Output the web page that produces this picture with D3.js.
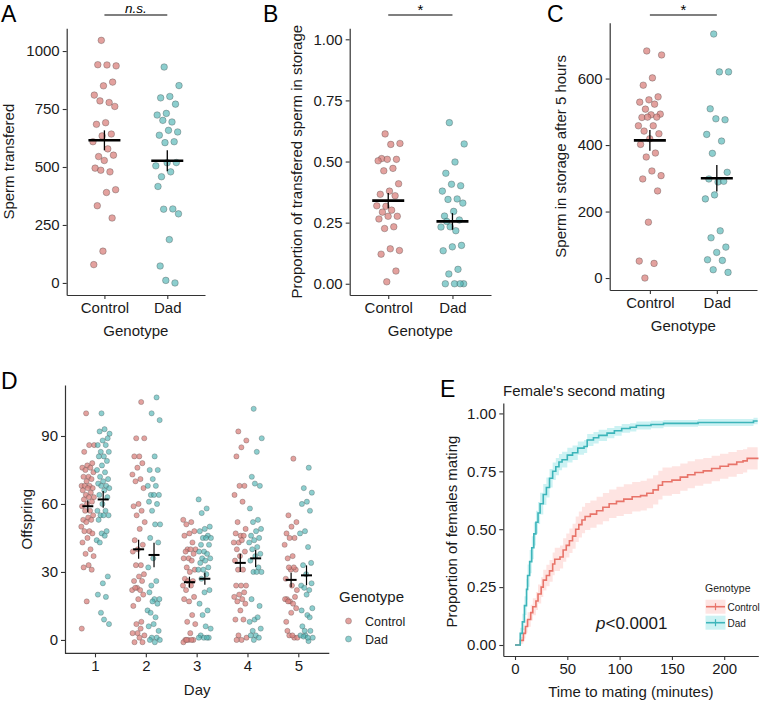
<!DOCTYPE html>
<html><head><meta charset="utf-8">
<script src="https://cdn.jsdelivr.net/npm/d3@7"></script>
<style>
body{margin:0;background:#fff}
svg text{font-family:"Liberation Sans",Arial,Helvetica,sans-serif}
</style>
</head><body>
<svg id="c" width="762" height="702"></svg>
<script>
// ---------------- DATA ----------------
const genotypes = ["Control", "Dad"];

// Panel A: sperm transferred
const aControl = [1046,936,940,941,866,850,810,778,785,761,691,684,642,634,609,578,545,551,528,495,479,486,402,390,333,280,137,79];
const aDad = [931,851,804,798,771,731,724,694,701,651,658,637,609,605,505,479,458,519,518,416,319,318,298,187,73,0,11];
const aMean = [615, 527];
const aSE = [43, 45];
const aTicks = [0, 250, 500, 750, 1000];

// Panel B: proportion in storage
const bControl = [0.613,0.574,0.570,0.512,0.509,0.509,0.503,0.472,0.462,0.409,0.379,0.366,0.360,0.317,0.319,0.301,0.293,0.276,0.276,0.265,0.233,0.226,0.136,0.143,0.121,0.052,0.008];
const bDad = [0.659,0.572,0.498,0.452,0.401,0.407,0.379,0.347,0.345,0.330,0.296,0.277,0.261,0.233,0.232,0.217,0.255,0.157,0.151,0.135,0.059,0.040,0,0,0,0];
const bMean = [0.34, 0.255];
const bSE = [0.031, 0.034];
const bTicks = [0, 0.25, 0.5, 0.75, 1.0];

// Panel C: sperm in storage after 5 hours
const cControl = [683,671,602,580,545,536,529,523,508,493,491,483,484,484,458,458,442,434,419,402,376,364,308,322,298,262,168,51,44,0];
const cDad = [734,620,620,509,476,479,432,412,375,318,289,298,291,250,238,142,121,93,77,55,53,25,17];
const cMean = [414, 300];
const cSE = [31, 40];
const cTicks = [0, 200, 400, 600];

// Panel D: offspring per day
const days = ["1","2","3","4","5"];
const dControl = [
  [100,86,86,83,78,77,76,76,75,74,72,72,71,70,68,68,68,67,67,66,65,64,63,63,62,61,60,59,57,57,55,54,53,53,52,50,48,48,47,45,43,40,38,37,33,32,31,17,5],
  [105,89,89,81,81,78,76,73,71,70,67,60,59,57,55,52,49,44,42,40,39,33,33,29,28,26,26,23,22,22,23,20,18,15,8,7,2,1,-1,-1,3,3,5],
  [53,52,51,48,47,46,43,40,40,40,39,38,36,36,35,32,31,30,27,26,26,24,24,22,19,17,18,11,8,7,3,0,0,0,-1,0,0],
  [92,88,85,81,68,68,64,61,52,49,46,47,46,43,43,44,40,39,37,35,31,31,24,24,24,21,20,19,18,17,16,13,9,9,2,1,0,0],
  [80,55,52,50,47,45,45,42,37,36,31,31,27,32,32,22,24,18,19,17,18,16,17,14,12,8,1,2,1,2,4]
];
const dDad = [
  [100,91,93,92,89,88,86,86,83,83,81,81,79,77,75,74,72,71,70,69,68,68,67,66,64,63,60,57,57,55,55,55,53,48,47,44,46,43,28,25,20,19,12,7,9],
  [107,100,97,81,75,75,71,68,68,64,64,64,61,60,57,51,51,45,43,36,32,26,24,18,18,21,16,17,13,10,12,4,7,6,1,1,0,-1,0],
  [62,58,56,50,49,48,46,45,45,45,42,42,39,39,38,36,36,35,34,32,31,31,29,27,22,21,16,13,11,5,6,2,1,1,1,1],
  [102,89,83,72,68,69,58,53,52,49,48,46,45,44,43,41,40,38,37,35,32,30,30,30,18,15,9,8,10,4,5,2,2,1,0],
  [76,67,65,61,60,57,48,47,41,33,34,29,24,22,23,14,11,6,4,2,2,-0.5,1.5,25,20,13,10,4,1,1]
];
const dMeanControl = [59, 40, 25.5, 34, 26.5];
const dMeanDad = [62, 37.5, 27, 36, 28.5];
const dSEControl = [2.6, 4.2, 2.4, 4.0, 3.2];
const dSEDad = [3.7, 5.4, 2.6, 3.8, 4.4];
const dTicks = [0, 30, 60, 90];

// Panel E: Kaplan-Meier curves (time in minutes, proportion mated)
const eTicksX = [0, 50, 100, 150, 200];
const eTicksY = [0, 0.25, 0.5, 0.75, 1.0];
const dadTime = [0,3,5,7,9,11,12,14,16,18,20,22,24,27,30,33,36,39,42,45,50,55,60,66,69,75,80,88,95,102,110,116,130,142,175,228,232];
const dadSurv = [0,0,0.05,0.10,0.17,0.24,0.30,0.36,0.42,0.48,0.53,0.57,0.61,0.65,0.68,0.72,0.75,0.77,0.79,0.80,0.82,0.83,0.85,0.857,0.885,0.895,0.905,0.915,0.925,0.935,0.94,0.948,0.952,0.957,0.961,0.967,0.967];
const dadLo = [0,0,0.025,0.065,0.13,0.195,0.252,0.31,0.37,0.43,0.48,0.522,0.563,0.605,0.637,0.68,0.712,0.733,0.755,0.766,0.788,0.799,0.821,0.829,0.859,0.87,0.881,0.893,0.904,0.916,0.922,0.931,0.936,0.942,0.946,0.953,0.953];
const dadHi = [0,0,0.075,0.135,0.21,0.285,0.348,0.41,0.47,0.53,0.58,0.618,0.657,0.695,0.723,0.76,0.788,0.807,0.825,0.834,0.852,0.861,0.879,0.885,0.911,0.92,0.929,0.937,0.946,0.954,0.958,0.965,0.968,0.972,0.976,0.981,0.981];
const ctrlTime = [0,3,5,8,10,12,15,17,20,22,25,27,30,33,36,38,43,46,49,52,55,58,61,64,67,72,78,84,90,97,104,112,120,126,132,137,141,150,158,165,172,180,188,196,204,212,218,222,232];
const ctrlSurv = [0,0,0.02,0.05,0.08,0.11,0.14,0.165,0.19,0.22,0.25,0.28,0.30,0.32,0.35,0.37,0.38,0.41,0.43,0.45,0.47,0.50,0.52,0.54,0.555,0.565,0.58,0.595,0.61,0.62,0.63,0.64,0.645,0.655,0.67,0.69,0.705,0.712,0.725,0.735,0.745,0.752,0.762,0.772,0.78,0.79,0.795,0.806,0.81];
const ctrlLo = [0,0,0.005,0.028,0.053,0.079,0.106,0.128,0.151,0.179,0.207,0.235,0.254,0.273,0.301,0.32,0.33,0.359,0.378,0.397,0.416,0.445,0.464,0.483,0.497,0.506,0.52,0.534,0.548,0.557,0.566,0.576,0.581,0.591,0.607,0.628,0.644,0.652,0.666,0.677,0.688,0.696,0.707,0.718,0.727,0.738,0.745,0.758,0.764];
const ctrlHi = [0,0,0.035,0.072,0.107,0.141,0.174,0.202,0.229,0.261,0.293,0.325,0.346,0.367,0.399,0.42,0.43,0.461,0.482,0.503,0.524,0.555,0.576,0.597,0.613,0.624,0.64,0.656,0.672,0.683,0.694,0.704,0.709,0.719,0.733,0.752,0.766,0.772,0.784,0.793,0.802,0.808,0.817,0.826,0.833,0.842,0.845,0.854,0.856];

// ---------------- STYLE ----------------
const ptFill = {Control: "#D9827D", Dad: "#4FB3B3"};
const ptOpacity = {Control: 0.75, Dad: 0.65};
const lineCol = {Control: "#E8746A", Dad: "#3DB5BA"};
const ribCol = {Control: "#F8766D", Dad: "#00BFC4"};
const axisCol = "#333";
const txtCol = "#1a1a1a";
const TICK = 15, TITLE = 15, LETTER = 23;

const svg = d3.select("#c");

function jit(i) { return ((i * 0.618034 + 0.37) % 1) * 2 - 1; }

function styleAxis(g) {
  g.selectAll("path.domain").attr("stroke", axisCol).attr("stroke-width", 1.2);
  g.selectAll(".tick line").attr("stroke", axisCol).attr("stroke-width", 1.1);
  g.selectAll(".tick text").attr("fill", txtCol).attr("font-size", TICK)
    .attr("font-family", '"Liberation Sans",Arial,sans-serif');
}

function text(x, y, s, o = {}) {
  const t = svg.append("text").attr("x", x).attr("y", y).text(s)
    .attr("font-size", o.size || TITLE).attr("fill", o.fill || txtCol)
    .attr("text-anchor", o.anchor || "start");
  if (o.rotate) t.attr("transform", `rotate(-90,${x},${y})`);
  if (o.italic) t.attr("font-style", "italic");
  return t;
}

function dotPanel(p) {
  const x = d3.scalePoint().domain(genotypes).range([p.x0, p.x1]).padding(0.6);
  const y = d3.scaleLinear().domain(p.dom).range([p.yb, p.yt]);
  const gx = svg.append("g").attr("transform", `translate(0,${p.yb})`)
    .call(d3.axisBottom(x).tickSize(4).tickSizeOuter(0).tickPadding(3));
  styleAxis(gx);
  const gy = svg.append("g").attr("transform", `translate(${p.x0},0)`)
    .call(d3.axisLeft(y).tickValues(p.ticks).tickFormat(p.fmt).tickSize(4).tickSizeOuter(0).tickPadding(3));
  styleAxis(gy);
  const sets = [[p.ctrl, "Control"], [p.dad, "Dad"]];
  sets.forEach(([vals, gname]) => {
    svg.append("g").selectAll("circle").data(vals).join("circle")
      .attr("cx", (d, i) => x(gname) + jit(i) * 12)
      .attr("cy", d => y(d))
      .attr("r", 3.3)
      .attr("fill", ptFill[gname]).attr("fill-opacity", ptOpacity[gname])
      .attr("stroke", "#3a3a3a").attr("stroke-opacity", 0.45).attr("stroke-width", 0.7);
  });
  genotypes.forEach((gname, k) => {
    const cx = x(gname);
    svg.append("line").attr("x1", cx).attr("x2", cx)
      .attr("y1", y(p.mean[k] - p.se[k])).attr("y2", y(p.mean[k] + p.se[k]))
      .attr("stroke", "#000").attr("stroke-width", 1.3);
    svg.append("line").attr("x1", cx - 16).attr("x2", cx + 16)
      .attr("y1", y(p.mean[k])).attr("y2", y(p.mean[k]))
      .attr("stroke", "#000").attr("stroke-width", 2.6);
  });
  // significance bar
  svg.append("line").attr("x1", x("Control")).attr("x2", x("Dad"))
    .attr("y1", 15).attr("y2", 15).attr("stroke", "#000").attr("stroke-width", 1.1);
  const mid = (x("Control") + x("Dad")) / 2;
  text(mid, p.sigY, p.sig, {anchor: "middle", size: p.sigSize, italic: p.sigItalic, fill: "#000"});
  // titles
  text(mid, p.titleY, "Genotype", {anchor: "middle"});
  text(p.ylabX, (p.yb + p.yt) / 2, p.ylab, {anchor: "middle", rotate: true});
  text(p.letterX, 22, p.letter, {size: LETTER, fill: "#000"});
}

dotPanel({x0: 66.7, x1: 205, yb: 295, yt: 28.3, dom: [-52, 1098], ticks: aTicks, fmt: d3.format("d"),
  ctrl: aControl, dad: aDad, mean: aMean, se: aSE, sig: "n.s.", sigY: 12.5, sigSize: 13.5, sigItalic: true,
  titleY: 336, ylabX: 14, ylab: "Sperm transfered", letterX: 1, letter: "A"});
dotPanel({x0: 349.7, x1: 491, yb: 295, yt: 28.3, dom: [-0.046, 1.045], ticks: bTicks, fmt: d3.format(".2f"),
  ctrl: bControl, dad: bDad, mean: bMean, se: bSE, sig: "*", sigY: 15, sigSize: 15, sigItalic: false,
  titleY: 336, ylabX: 302, ylab: "Proportion of transfered sperm in storage", letterX: 263, letter: "B"});
dotPanel({x0: 609.7, x1: 757, yb: 290, yt: 22.7, dom: [-36, 768], ticks: cTicks, fmt: d3.format("d"),
  ctrl: cControl, dad: cDad, mean: cMean, se: cSE, sig: "*", sigY: 15, sigSize: 15, sigItalic: false,
  titleY: 331, ylabX: 566, ylab: "Sperm in storage after 5 hours", letterX: 547, letter: "C"});

// ---------------- PANEL D ----------------
(function () {
  const x0 = 65, x1 = 329.3, yb = 653.3, yt = 385;
  const x = d3.scaleBand().domain(days).range([x0, x1]).paddingInner(0).paddingOuter(0.1);
  const y = d3.scaleLinear().domain([-5.9, 112.5]).range([yb, yt]);
  const gx = svg.append("g").attr("transform", `translate(0,${yb})`)
    .call(d3.axisBottom(x).tickSize(4).tickSizeOuter(0).tickPadding(3));
  styleAxis(gx);
  gx.select("path.domain").attr("d", `M${x0},0H${x1}`);
  const gy = svg.append("g").attr("transform", `translate(${x0},0)`)
    .call(d3.axisLeft(y).tickValues(dTicks).tickSize(4).tickSizeOuter(0).tickPadding(3));
  styleAxis(gy);
  const dodge = 7.7;
  const groups = [[dControl, "Control", -dodge, dMeanControl, dSEControl], [dDad, "Dad", dodge, dMeanDad, dSEDad]];
  groups.forEach(([arr, gname, off]) => {
    arr.forEach((vals, di) => {
      svg.append("g").selectAll("circle").data(vals).join("circle")
        .attr("cx", (d, i) => x(days[di]) + x.bandwidth() / 2 + off + jit(i + di * 7) * 6.5)
        .attr("cy", d => y(d))
        .attr("r", 2.6)
        .attr("fill", ptFill[gname]).attr("fill-opacity", ptOpacity[gname])
        .attr("stroke", "#3a3a3a").attr("stroke-opacity", 0.45).attr("stroke-width", 0.6);
    });
  });
  groups.forEach(([arr, gname, off, means, ses]) => {
    means.forEach((m, di) => {
      const cx = x(days[di]) + x.bandwidth() / 2 + off;
      svg.append("line").attr("x1", cx).attr("x2", cx)
        .attr("y1", y(m - ses[di])).attr("y2", y(m + ses[di]))
        .attr("stroke", "#000").attr("stroke-width", 1.2);
      svg.append("line").attr("x1", cx - 5.5).attr("x2", cx + 5.5)
        .attr("y1", y(m)).attr("y2", y(m)).attr("stroke", "#000").attr("stroke-width", 2);
    });
  });
  text((x0 + x1) / 2, 695, "Day", {anchor: "middle"});
  text(32, (yb + yt) / 2, "Offspring", {anchor: "middle", rotate: true});
  text(1, 389, "D", {size: LETTER, fill: "#000"});
  // legend
  text(339, 602, "Genotype", {size: 15});
  genotypes.forEach((gname, k) => {
    const cy = 621 + k * 18;
    svg.append("circle").attr("cx", 348.5).attr("cy", cy).attr("r", 3)
      .attr("fill", ptFill[gname]).attr("fill-opacity", ptOpacity[gname])
      .attr("stroke", "#3a3a3a").attr("stroke-opacity", 0.45).attr("stroke-width", 0.6);
    text(365, cy + 4.5, gname, {size: 12.5});
  });
})();

// ---------------- PANEL E ----------------
(function () {
  const x0 = 503.3, x1 = 758.3, yb = 656, yt = 403;
  const x = d3.scaleLinear().domain([-11.2, 232.6]).range([x0, x1]);
  const y = d3.scaleLinear().domain([-0.0475, 1.045]).range([yb, yt]);
  const gx = svg.append("g").attr("transform", `translate(0,${yb})`)
    .call(d3.axisBottom(x).tickValues(eTicksX).tickSize(4).tickSizeOuter(0).tickPadding(3));
  styleAxis(gx);
  const gy = svg.append("g").attr("transform", `translate(${x0},0)`)
    .call(d3.axisLeft(y).tickValues(eTicksY).tickFormat(d3.format(".2f")).tickSize(4).tickSizeOuter(0).tickPadding(3));
  styleAxis(gy);
  const curves = [
    ["Control", ctrlTime, ctrlSurv, ctrlLo, ctrlHi],
    ["Dad", dadTime, dadSurv, dadLo, dadHi]
  ];
  curves.forEach(([gname, t, s, lo, hi]) => {
    const rows = t.map((tt, i) => ({t: tt, s: s[i], lo: lo[i], hi: hi[i]}));
    svg.append("path").datum(rows)
      .attr("d", d3.area().curve(d3.curveStepAfter).x(d => x(d.t)).y0(d => y(d.lo)).y1(d => y(d.hi)))
      .attr("fill", ribCol[gname]).attr("fill-opacity", 0.2);
  });
  curves.forEach(([gname, t, s]) => {
    const rows = t.map((tt, i) => ({t: tt, s: s[i]}));
    svg.append("path").datum(rows)
      .attr("d", d3.line().curve(d3.curveStepAfter).x(d => x(d.t)).y(d => y(d.s)))
      .attr("fill", "none").attr("stroke", lineCol[gname]).attr("stroke-width", 1.6);
  });
  text(503, 396, "Female's second mating", {size: 15});
  text((x0 + x1) / 2, 697, "Time to mating (minutes)", {anchor: "middle"});
  text(457, (yb + yt) / 2 + 2, "Proportion of females mating", {anchor: "middle", rotate: true});
  text(440, 397, "E", {size: LETTER, fill: "#000"});
  const p = svg.append("text").attr("x", 596).attr("y", 629).attr("font-size", 17).attr("fill", txtCol);
  p.append("tspan").attr("font-style", "italic").text("p");
  p.append("tspan").text("<0.0001");
  // legend
  text(705, 591.5, "Genotype", {size: 10.5});
  genotypes.forEach((gname, k) => {
    const cy = 606.7 + k * 16;
    svg.append("rect").attr("x", 705.5).attr("y", cy - 7).attr("width", 20).attr("height", 14)
      .attr("fill", ribCol[gname]).attr("fill-opacity", 0.2);
    svg.append("line").attr("x1", 706).attr("x2", 725).attr("y1", cy).attr("y2", cy)
      .attr("stroke", lineCol[gname]).attr("stroke-width", 1.6);
    svg.append("line").attr("x1", 715.5).attr("x2", 715.5).attr("y1", cy - 3.5).attr("y2", cy + 3.5)
      .attr("stroke", lineCol[gname]).attr("stroke-width", 1.2);
    text(727.5, cy + 3.8, gname, {size: 10});
  });
})();
</script>
</body></html>
